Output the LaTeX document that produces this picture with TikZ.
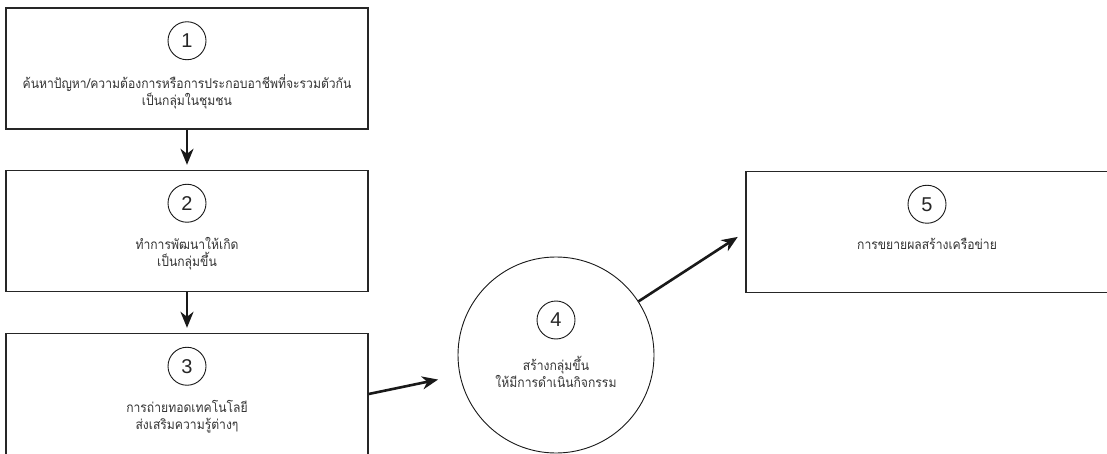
\documentclass[tikz,border=0pt]{standalone}
\usepackage{fontspec}
\setmainfont{Liberation Sans}
\newfontfamily\thaifont[Script=Thai,FakeStretch=0.9]{Loma}
\usetikzlibrary{positioning,arrows.meta}

\tikzset{
  stage/.style={draw=black!85, line width=1.4pt, minimum width=362pt, minimum height=121pt, inner sep=0pt},
  num/.style={draw=black!90, circle, line width=0.9pt, minimum size=38pt, inner sep=0pt, text=black!85, font=\fontsize{20}{20}\selectfont},
  desc/.style={align=center, inner sep=0pt, text=black!80, font=\thaifont\fontsize{13.5}{17}\selectfont},
  flow/.style={-{Stealth[length=16pt,width=13pt,inset=5pt]}, line width=2.6pt, draw=black!90}
}

\begin{document}
\begin{tikzpicture}[x=1pt,y=-1pt]
\useasboundingbox (0,0) rectangle (1107,454);
\clip (0,0) rectangle (1107,454);

% the steps on the left
\node [stage] (b1) at (187,68.5) {};
\node [stage] (b2) at (187,231) {};
\node [stage] (b3) at (187,394) {};
\node [num, below=14pt of b1.north] (n1) {1};
\node [num, below=14pt of b2.north] (n2) {2};
\node [num, below=14pt of b3.north] (n3) {3};
\node [desc, below=14pt of n1] (t1) {ค้นหาปัญหา/ความต้องการหรือการประกอบอาชีพที่จะรวมตัวกัน\\เป็นกลุ่มในชุมชน};
\node [desc, below=14pt of n2] (t2) {ทำการพัฒนาให้เกิด\\เป็นกลุ่มขึ้น};
\node [desc, below=14pt of n3] (t3) {การถ่ายทอดเทคโนโลยี\\ส่งเสริมความรู้ต่างๆ};

% the group
\node [draw=black!90, circle, line width=0.9pt, minimum size=196pt] (c4) at (556,355) {};
\node [num, below=44pt of c4.north] (n4) {4};
\node [desc, below=17pt of n4] (t4) {สร้างกลุ่มขึ้น\\ให้มีการดำเนินกิจกรรม};

% the network
\node [stage] (b5) at (927,232) {};
\node [num, below=14pt of b5.north] (n5) {5};
\node [desc, below=14pt of n5] (t5) {การขยายผลสร้างเครือข่าย};

\draw [flow, shorten >=5pt] (b1) -- (b2);
\draw [flow, shorten >=5pt] (b2) -- (b3);
\draw [flow, shorten >=22pt] (b3.east) -- (c4);
\draw [flow, shorten >=9pt] (c4) -- (b5.west);
\end{tikzpicture}
\end{document}
